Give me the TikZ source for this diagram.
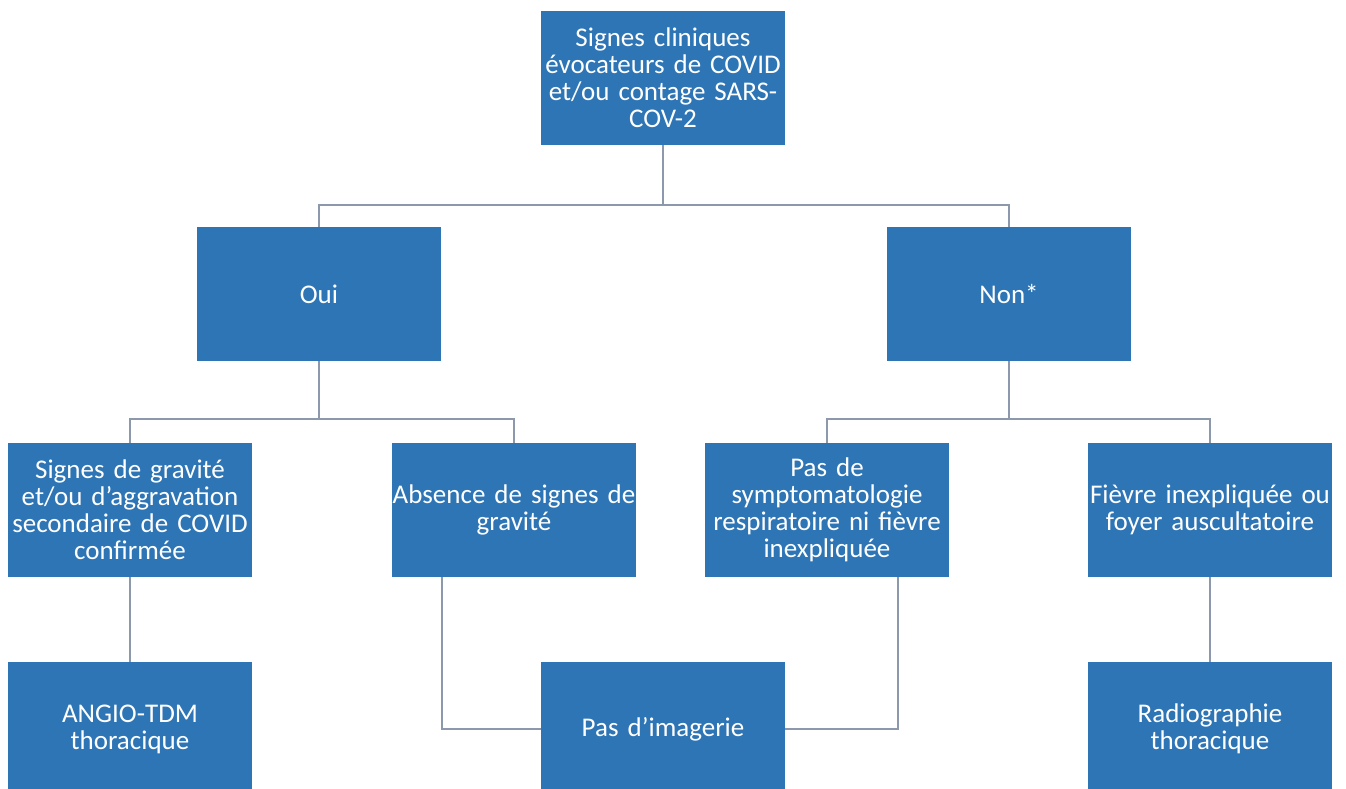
\documentclass[tikz,border=0pt]{standalone}
\usepackage{fontspec}
\setmainfont{Carlito}
\usepackage{tikz}
\definecolor{boxblue}{RGB}{46,117,182}
\definecolor{linkgrey}{RGB}{140,152,172}
\tikzstyle{stepbox} = [fill=boxblue, text=white, rectangle,
    minimum width=244pt, minimum height=134pt, text width=244pt,
    align=center, inner sep=0pt, font=\fontsize{27}{27}\selectfont]
\tikzstyle{link} = [draw=linkgrey, line width=1.5pt]

\begin{document}
\begin{tikzpicture}[x=1pt,y=-1pt]
    \clip (0,0) rectangle (1346,789);
    % boxes
    \node[stepbox] (signes) at (663,78) {Signes cliniques\\évocateurs de COVID\\et/ou contage SARS-\\COV-2};
    \node[stepbox] (oui) at (319,294) {Oui};
    \node[stepbox] (non) at (1009,294) {Non*};
    \node[stepbox] (gravite) at (130,510) {Signes de gravité\\et/ou d’aggravation\\secondaire de COVID\\confirmée};
    \node[stepbox] (absence) at (514,510) {Absence de signes de\\gravité};
    \node[stepbox] (pasde) at (827,510) {Pas de\\symptomatologie\\respiratoire ni fièvre\\inexpliquée};
    \node[stepbox] (fievre) at (1210,510) {Fièvre inexpliquée ou\\foyer auscultatoire};
    \node[stepbox] (angio) at (130,729) {ANGIO-TDM\\thoracique};
    \node[stepbox] (imagerie) at (663,729) {Pas d’imagerie};
    \node[stepbox] (radio) at (1210,729) {Radiographie\\thoracique};
    % connectors
    \coordinate (busTop) at (663,205);
    \coordinate (busOui) at (319,419);
    \coordinate (busNon) at (1009,419);
    \draw[link] (signes.south) -- (busTop);
    \draw[link] (oui.north) |- (busTop) -| (non.north);
    \draw[link] (oui.south) -- (busOui);
    \draw[link] (gravite.north) |- (busOui) -| (absence.north);
    \draw[link] (non.south) -- (busNon);
    \draw[link] (pasde.north) |- (busNon) -| (fievre.north);
    \draw[link] (gravite.south) -- (angio.north);
    \draw[link] ([xshift=-72pt]absence.south) |- (imagerie.west);
    \draw[link] ([xshift=71pt]pasde.south) |- (imagerie.east);
    \draw[link] (fievre.south) -- (radio.north);
\end{tikzpicture}
\end{document}
